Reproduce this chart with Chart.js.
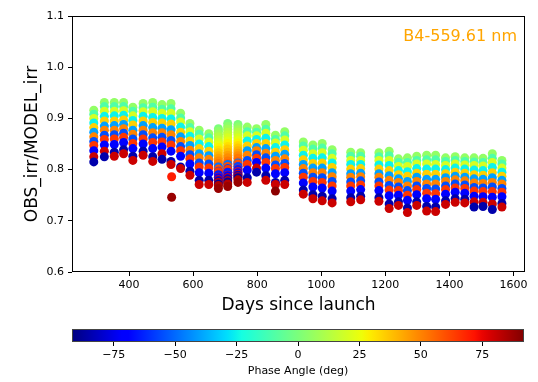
<!DOCTYPE html>
<html lang="en">
<head>
    <meta charset="UTF-8">
    <title>OBS_irr / MODEL_irr vs days since launch</title>
    <script src="https://cdn.jsdelivr.net/npm/chart.js"></script>
    <style>
        body { margin: 0; background: #fff; }
        #wrap { position: relative; width: 538px; height: 382px; }
        #ratioChart { position: absolute; left: 0; top: 0; }
        #phaseBar { position: absolute; left: 0; top: 320px; }
    </style>
</head>
<body>

<div id="wrap">
    <canvas id="ratioChart" width="538" height="320"></canvas>
    <canvas id="phaseBar" width="538" height="62"></canvas>
</div>

<script>
    // phase angles observed in each monthly block (deg)
    const PHASES = [-85, -70, -55, -40, -25, -10, 5, 20, 35, 50, 65, 80];

    // monthly observation days
    const DAYS = [290, 323, 354, 383, 412, 444, 474, 503, 531, 561, 590, 619, 649,
                  769, 798, 827, 857, 886,
                  944, 974, 1003, 1034,
                  1092, 1123,
                  1180, 1212, 1241, 1269, 1298, 1329, 1357, 1388, 1418, 1448, 1477, 1505, 1534, 1564];

    // OBS_irr/MODEL_irr for each day, one value per entry of PHASES
    const RATIOS = [
        [.815, .837, .855, .873, .891, .908, .916, .900, .882, .864, .847, .825],
        [.825, .848, .867, .885, .904, .923, .931, .914, .895, .877, .859, .836],
        [.834, .849, .868, .886, .905, .923, .931, .914, .895, .877, .860, .826],
        [.839, .853, .871, .888, .906, .923, .931, .915, .897, .880, .863, .831],
        [.826, .841, .860, .877, .896, .914, .922, .905, .887, .869, .851, .818],
        [.836, .850, .868, .886, .904, .921, .929, .913, .895, .877, .860, .828],
        [.825, .841, .862, .882, .902, .922, .931, .913, .892, .872, .853, .816],
        [.820, .844, .863, .881, .900, .918, .927, .910, .891, .872, .854, .831],
        [.816, .836, .857, .878, .899, .919, .929, .910, .889, .868, .848, .810],
        [.805, .826, .845, .864, .883, .901, .910, .893, .873, .855, .837, .802],
        [.797, .811, .829, .847, .865, .882, .890, .874, .856, .838, .821, .789],
        [.779, .794, .813, .831, .850, .869, .877, .860, .841, .823, .805, .771],
        [.779, .793, .811, .827, .845, .862, .870, .854, .836, .820, .803, .771],
        [.784, .799, .818, .837, .856, .874, .883, .866, .846, .828, .810, .775],
        [.795, .814, .829, .843, .859, .873, .880, .866, .851, .837, .822, .803],
        [.788, .803, .823, .841, .861, .879, .888, .871, .851, .832, .814, .779],
        [.775, .792, .809, .826, .843, .859, .867, .852, .834, .818, .802, .771],
        [.779, .794, .812, .830, .848, .866, .874, .858, .839, .821, .804, .771],
        [.760, .774, .793, .810, .828, .846, .854, .838, .819, .802, .785, .752],
        [.751, .766, .785, .803, .822, .840, .848, .831, .812, .794, .777, .743],
        [.748, .764, .784, .803, .823, .842, .851, .833, .813, .794, .775, .739],
        [.743, .758, .777, .794, .813, .831, .839, .822, .804, .786, .768, .735],
        [.745, .758, .776, .792, .810, .826, .834, .818, .801, .785, .768, .737],
        [.748, .761, .778, .793, .810, .826, .833, .818, .802, .786, .770, .741],
        [.745, .759, .776, .792, .809, .825, .833, .818, .801, .785, .768, .738],
        [.733, .749, .769, .788, .808, .827, .836, .818, .798, .779, .760, .724],
        [.737, .750, .766, .782, .798, .814, .821, .806, .790, .775, .759, .730],
        [.725, .740, .759, .777, .796, .814, .823, .806, .787, .768, .750, .716],
        [.737, .751, .768, .785, .802, .818, .826, .811, .793, .777, .761, .730],
        [.728, .743, .763, .781, .801, .819, .828, .811, .791, .772, .754, .719],
        [.727, .742, .762, .781, .801, .819, .828, .810, .791, .772, .753, .718],
        [.739, .752, .768, .784, .800, .816, .823, .808, .792, .777, .761, .732],
        [.743, .756, .772, .787, .803, .818, .825, .811, .795, .780, .764, .736],
        [.742, .754, .770, .785, .801, .816, .823, .809, .793, .778, .763, .735],
        [.727, .748, .765, .782, .799, .815, .823, .808, .790, .774, .758, .737],
        [.728, .747, .764, .781, .798, .814, .822, .807, .789, .773, .757, .736],
        [.722, .746, .766, .784, .804, .822, .831, .814, .794, .775, .757, .733],
        [.734, .747, .763, .779, .795, .811, .818, .803, .787, .772, .756, .727]
    ];

    // three days with a dense phase-angle sweep
    const DENSE_DAYS = [679, 708, 740];
    const DENSE_PHASES = [0, 4, 8, 12, 16, 20, 24, 28, 32, 36, 40, 44, 48, 52, 56, 60, 64, 68, 72, 76, 80, 84, 88,
                          -88, -80, -72, -64, -56, -48];
    const DENSE_RATIOS = [
        [.880, .875, .869, .864, .858, .853, .848, .843, .838, .833, .827, .822, .817, .812, .806, .801, .796, .790, .785, .780, .775, .769, .763,
         .772, .778, .784, .790, .797, .805],
        [.890, .884, .879, .873, .868, .862, .856, .851, .845, .840, .834, .828, .823, .817, .812, .806, .800, .795, .789, .784, .778, .772, .767,
         .776, .782, .788, .795, .802, .810],
        [.888, .883, .878, .873, .868, .862, .857, .852, .847, .842, .837, .832, .827, .822, .816, .811, .806, .801, .796, .791, .786, .780, .775,
         .784, .789, .794, .800, .806, .813]
    ];

    // isolated low readings
    const OUT_DAYS = [533, 533, 857];
    const OUT_RATIOS = [.786, .746, .758];
    const OUT_PHASES = [70, 88, 90];

    const X_TICKS = [400, 600, 800, 1000, 1200, 1400, 1600];
    const Y_TICKS = [0.6, 0.7, 0.8, 0.9, 1.0, 1.1];
    const PHASE_TICKS = [-75, -50, -25, 0, 25, 50, 75];
    const PHASE_MIN = -92, PHASE_MAX = 92;

    Chart.defaults.font.family = 'DejaVu Sans';
    Chart.defaults.color = '#000';

    // matplotlib 'jet' colormap
    const JET = {
        r: [[0, 0], [0.35, 0], [0.66, 1], [0.89, 1], [1, 0.5]],
        g: [[0, 0], [0.125, 0], [0.375, 1], [0.64, 1], [0.91, 0], [1, 0]],
        b: [[0, 0.5], [0.11, 1], [0.34, 1], [0.65, 0], [1, 0]]
    };
    function channel(pts, t) {
        for (let i = 1; i < pts.length; i++) {
            if (t <= pts[i][0]) {
                const [x0, y0] = pts[i - 1], [x1, y1] = pts[i];
                return y0 + (y1 - y0) * (t - x0) / (x1 - x0);
            }
        }
        return pts[pts.length - 1][1];
    }
    function jet(t) {
        t = Math.min(1, Math.max(0, t));
        const c = k => Math.round(255 * channel(JET[k], t));
        return `rgb(${c('r')},${c('g')},${c('b')})`;
    }
    function phaseColor(p) {
        return jet((p - PHASE_MIN) / (PHASE_MAX - PHASE_MIN));
    }

    // collect every reading, then draw the lower ones last so they sit on top
    const readings = [];
    DAYS.forEach((d, i) => {
        RATIOS[i].forEach((r, j) => readings.push({ x: d, y: r, phase: PHASES[j] }));
    });
    DENSE_DAYS.forEach((d, i) => {
        DENSE_RATIOS[i].forEach((r, j) => readings.push({ x: d, y: r, phase: DENSE_PHASES[j] }));
    });
    OUT_DAYS.forEach((d, i) => {
        readings.push({ x: d, y: OUT_RATIOS[i], phase: OUT_PHASES[i] });
    });
    readings.sort((a, b) => b.y - a.y);

    const points = readings.map(p => ({ x: p.x, y: p.y }));
    const colors = readings.map(p => phaseColor(p.phase));

    // box around the axes + band label
    const frame = {
        id: 'frame',
        afterDraw(chart) {
            const { ctx, chartArea: a } = chart;
            ctx.save();
            ctx.strokeStyle = '#000';
            ctx.lineWidth = 1;
            ctx.strokeRect(a.left + 0.5, a.top + 0.5, a.right - a.left - 1, a.bottom - a.top - 1);
            ctx.fillStyle = 'orange';
            ctx.font = '16px "DejaVu Sans"';
            ctx.textAlign = 'right';
            ctx.textBaseline = 'middle';
            ctx.fillText('B4-559.61 nm', a.right - 8, a.top + 21);
            ctx.restore();
        }
    };

    new Chart(document.getElementById('ratioChart'), {
        type: 'scatter',
        data: {
            datasets: [{
                data: points,
                pointBackgroundColor: colors,
                pointBorderWidth: 0,
                pointRadius: 4.5,
                pointHoverRadius: 4.5
            }]
        },
        options: {
            responsive: false,
            animation: false,
            events: [],
            layout: { padding: { top: 16, right: 13, left: 0, bottom: 0 } },
            plugins: { legend: { display: false }, tooltip: { enabled: false } },
            scales: {
                x: {
                    type: 'linear',
                    min: 222,
                    max: 1636,
                    afterBuildTicks: s => { s.ticks = X_TICKS.map(v => ({ value: v })); },
                    afterFit: s => { s.height = 48; },
                    grid: { drawOnChartArea: false, tickLength: 4, tickColor: '#000' },
                    border: { display: false },
                    ticks: { font: { size: 11 }, padding: 3, maxRotation: 0, callback: v => String(v) },
                    title: {
                        display: true,
                        text: 'Days since launch',
                        font: { size: 17 },
                        padding: { top: 0, bottom: 4 }
                    }
                },
                y: {
                    min: 0.6,
                    max: 1.1,
                    afterBuildTicks: s => { s.ticks = Y_TICKS.map(v => ({ value: v })); },
                    afterFit: s => { s.width = 72; },
                    grid: { drawOnChartArea: false, tickLength: 4, tickColor: '#000' },
                    border: { display: false },
                    ticks: { font: { size: 11 }, padding: 4, callback: v => v.toFixed(1) },
                    title: {
                        display: true,
                        text: 'OBS_irr/MODEL_irr',
                        font: { size: 17 },
                        padding: { top: 22, bottom: 0 }
                    }
                }
            }
        },
        plugins: [frame]
    });

    // colour bar for phase angle
    const gradientBar = {
        id: 'gradientBar',
        beforeDatasetsDraw(chart) {
            const { ctx, chartArea: a } = chart;
            const g = ctx.createLinearGradient(a.left, 0, a.right, 0);
            for (let i = 0; i <= 64; i++) {
                g.addColorStop(i / 64, jet(i / 64));
            }
            ctx.save();
            ctx.fillStyle = g;
            ctx.fillRect(a.left, a.top, a.right - a.left, a.bottom - a.top);
            ctx.strokeStyle = '#444';
            ctx.lineWidth = 1;
            ctx.strokeRect(a.left + 0.5, a.top + 0.5, a.right - a.left - 1, a.bottom - a.top - 1);
            ctx.restore();
        }
    };

    new Chart(document.getElementById('phaseBar'), {
        type: 'scatter',
        data: { datasets: [] },
        options: {
            responsive: false,
            animation: false,
            events: [],
            layout: { padding: { top: 9, right: 14, left: 72, bottom: 0 } },
            plugins: { legend: { display: false }, tooltip: { enabled: false } },
            scales: {
                x: {
                    type: 'linear',
                    min: PHASE_MIN,
                    max: PHASE_MAX,
                    afterBuildTicks: s => { s.ticks = PHASE_TICKS.map(v => ({ value: v })); },
                    afterFit: s => { s.height = 40; },
                    grid: { drawOnChartArea: false, tickLength: 4, tickColor: '#000' },
                    border: { display: false },
                    ticks: {
                        font: { size: 11 },
                        padding: 3,
                        maxRotation: 0,
                        callback: v => (v < 0 ? '\u2212' + Math.abs(v) : String(v))
                    },
                    title: {
                        display: true,
                        text: 'Phase Angle (deg)',
                        font: { size: 11 },
                        padding: { top: 0, bottom: 4 }
                    }
                },
                y: { display: false, min: 0, max: 1 }
            }
        },
        plugins: [gradientBar]
    });
</script>

</body>
</html>
